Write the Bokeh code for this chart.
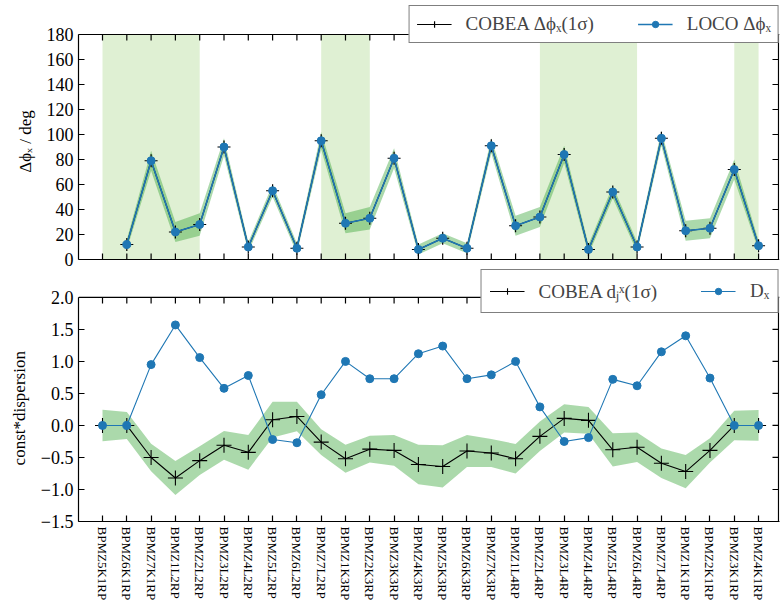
import math
from bokeh.plotting import figure
from bokeh.models import (Legend, LegendItem, FixedTicker, BoxAnnotation,
                          CustomJSTickFormatter, Range1d, Span)
from bokeh.layouts import column
from bokeh.embed import file_html
from bokeh.resources import INLINE

# ---------------- data ----------------
bpm_names = ["BPMZ5K1RP", "BPMZ6K1RP", "BPMZ7K1RP", "BPMZ1L2RP", "BPMZ2L2RP", "BPMZ3L2RP",
             "BPMZ4L2RP", "BPMZ5L2RP", "BPMZ6L2RP", "BPMZ7L2RP", "BPMZ1K3RP", "BPMZ2K3RP",
             "BPMZ3K3RP", "BPMZ4K3RP", "BPMZ5K3RP", "BPMZ6K3RP", "BPMZ7K3RP", "BPMZ1L4RP",
             "BPMZ2L4RP", "BPMZ3L4RP", "BPMZ4L4RP", "BPMZ5L4RP", "BPMZ6L4RP", "BPMZ7L4RP",
             "BPMZ1K1RP", "BPMZ2K1RP", "BPMZ3K1RP", "BPMZ4K1RP"]
bpm_idx = list(range(len(bpm_names)))

# phase advance between consecutive BPMs (deg), defined from the 2nd BPM on
phase_idx = list(range(1, 28))
cobea_dphi = [12, 79, 22, 28, 90, 10, 55, 9, 95, 29, 33, 81, 8, 17, 9, 91, 27, 34,
              84, 8, 54, 10, 97, 23, 25, 72, 11]
cobea_dphi_err = [4, 8, 8, 9, 7, 4, 5, 4, 7, 8, 9, 8, 4, 4, 4, 6, 8, 8,
                  7, 4, 5, 4, 6, 8, 8, 8, 4]
loco_dphi = [12, 79, 22, 28, 90, 10, 55, 9, 95, 29, 33, 81, 8, 17, 9, 91, 27, 34,
             84, 8, 54, 10, 97, 23, 25, 72, 11]

# shaded BPM intervals (first, last BPM index)
span_start = [0, 9, 18, 26]
span_end = [4, 11, 22, 27]

cobea_disp = [0.0, 0.0, -0.50, -0.82, -0.55, -0.31, -0.42, 0.09, 0.14, -0.26, -0.52,
              -0.37, -0.39, -0.61, -0.64, -0.40, -0.43, -0.52, -0.17, 0.11, 0.08,
              -0.38, -0.34, -0.59, -0.72, -0.39, 0.0, 0.0]
cobea_disp_err = [0.245, 0.21, 0.215, 0.265, 0.225, 0.225, 0.27, 0.28, 0.23, 0.20, 0.22,
                  0.21, 0.24, 0.31, 0.33, 0.25, 0.22, 0.23, 0.23, 0.22, 0.21, 0.26,
                  0.23, 0.23, 0.26, 0.19, 0.23, 0.24]
loco_disp = [0.0, 0.0, 0.95, 1.57, 1.06, 0.58, 0.78, -0.22, -0.27, 0.48, 1.0, 0.73,
             0.73, 1.12, 1.24, 0.73, 0.79, 1.0, 0.29, -0.25, -0.19, 0.72, 0.62, 1.15,
             1.40, 0.74, 0.0, 0.0]

phi_ticks = list(range(0, 181, 20))
disp_ticks = [-1.5, -1.0, -0.5, 0.0, 0.5, 1.0, 1.5, 2.0]

# ---------------- styling / layout ----------------
FONT = "Liberation Serif"
BLUE = "#1f77b4"
BAND = "#2ca02c"
SPAN = "#dff0d3"
BOX_H = 225                 # pixel height of the data box
BOX_W = 700                 # pixel width of the data box
XLO, XHI = -0.988, 27.82    # x extent of the data box
PX_PER_X = BOX_W / (XHI - XLO)
TICK = 6

def style_axis(ax):
    ax.axis_line_color = "black"
    ax.axis_line_width = 1.2
    ax.major_tick_in = TICK
    ax.major_tick_out = 0
    ax.major_tick_line_color = "black"
    ax.major_tick_line_width = 1.2
    ax.minor_tick_line_color = None
    ax.major_label_text_font = FONT
    ax.major_label_text_color = "black"
    ax.major_label_text_font_size = "18px"
    ax.major_label_standoff = 5
    ax.axis_label_text_font = FONT
    ax.axis_label_text_font_style = "normal"
    ax.axis_label_text_font_size = "17px"
    ax.axis_label_text_color = "black"
    ax.axis_label_standoff = 9

def make_fig(ylo, yhi, room, pad_bottom, border_top, border_bottom):
    # room: pixels above the data box for the legend (the legend overlaps the box top)
    upp = (yhi - ylo) / BOX_H
    p = figure(width=78 + BOX_W + 2, height=border_top + room + BOX_H + pad_bottom + border_bottom,
               x_range=Range1d(XLO, XHI + 1 / PX_PER_X),
               y_range=Range1d(ylo - pad_bottom * upp, yhi + room * upp),
               output_backend="svg", toolbar_location=None,
               min_border_left=78, min_border_right=1,
               min_border_top=border_top, min_border_bottom=border_bottom)
    p.grid.visible = False
    p.outline_line_color = None
    return p

def finish_box(p, ylo, yhi, yticks, draw_bottom):
    p.yaxis.ticker = FixedTicker(ticks=yticks)
    p.yaxis.bounds = (ylo, yhi)
    style_axis(p.yaxis[0])
    # top edge with inward ticks
    p.add_layout(Span(location=yhi, dimension="width", line_color="black", line_width=1.2))
    p.ray(x=bpm_idx, y=[yhi] * len(bpm_idx), length=TICK, length_units="screen",
          angle=-math.pi / 2, line_color="black", line_width=1.2)
    # right edge with inward ticks
    p.line(x=[XHI, XHI], y=[ylo, yhi], line_color="black", line_width=1.2)
    p.ray(x=[XHI] * len(yticks), y=yticks, length=TICK, length_units="screen",
          angle=math.pi, line_color="black", line_width=1.2)
    if draw_bottom:
        p.add_layout(Span(location=ylo, dimension="width", line_color="black", line_width=1.2))
        p.ray(x=bpm_idx, y=[ylo] * len(bpm_idx), length=TICK, length_units="screen",
              angle=math.pi / 2, line_color="black", line_width=1.2)

def make_legend(items, padding):
    return Legend(items=items, orientation="horizontal", location="top_right", margin=0,
                  padding=padding, spacing=44, glyph_width=35, glyph_height=16,
                  label_standoff=14, label_text_font=FONT, label_text_font_size="19px",
                  border_line_color="black", border_line_width=1.5,
                  background_fill_color="white", background_fill_alpha=1)

# ---------------- top panel ----------------
p1 = make_fig(0, 180, 29, 1, 5, 9)
for s, e in zip(span_start, span_end):
    p1.add_layout(BoxAnnotation(left=s, right=e, bottom=0, top=180, fill_color=SPAN,
                                fill_alpha=1, line_color=None, level="underlay"))
p1.varea(x=phase_idx,
         y1=[v - e for v, e in zip(cobea_dphi, cobea_dphi_err)],
         y2=[v + e for v, e in zip(cobea_dphi, cobea_dphi_err)],
         fill_color=BAND, fill_alpha=0.4)
c_line = p1.line(phase_idx, cobea_dphi, line_color="black", line_width=1.2)
c_mark = p1.scatter(phase_idx, cobea_dphi, marker="cross", size=13,
                    line_color="black", line_width=1.2)
l_line = p1.line(phase_idx, loco_dphi, line_color=BLUE, line_width=1.6)
l_mark = p1.scatter(phase_idx, loco_dphi, marker="circle", size=8,
                    fill_color=BLUE, line_color=BLUE)

p1.xaxis.visible = False
p1.yaxis.axis_label = "Δϕₓ / deg\u2007\u2007"
finish_box(p1, 0, 180, phi_ticks, True)

leg1 = make_legend([LegendItem(label="COBEA Δϕₓ(1σ)", renderers=[c_line, c_mark]),
                    LegendItem(label="LOCO Δϕₓ", renderers=[l_line, l_mark])], 7)
p1.add_layout(leg1)

# ---------------- bottom panel ----------------
p2 = make_fig(-1.5, 2.0, 28, 0, 0, 81)
p2.varea(x=bpm_idx,
         y1=[v - e for v, e in zip(cobea_disp, cobea_disp_err)],
         y2=[v + e for v, e in zip(cobea_disp, cobea_disp_err)],
         fill_color=BAND, fill_alpha=0.4)
d_line = p2.line(bpm_idx, cobea_disp, line_color="black", line_width=1.1)
d_mark = p2.scatter(bpm_idx, cobea_disp, marker="cross", size=15,
                    line_color="black", line_width=1.1)
D_line = p2.line(bpm_idx, loco_disp, line_color=BLUE, line_width=1.1)
D_mark = p2.scatter(bpm_idx, loco_disp, marker="circle", size=8,
                    fill_color=BLUE, line_color=BLUE)

p2.xaxis.ticker = FixedTicker(ticks=bpm_idx)
p2.xaxis.major_label_overrides = {i: n for i, n in zip(bpm_idx, bpm_names)}
style_axis(p2.xaxis[0])
p2.xaxis.major_label_text_font_size = "13px"
p2.xaxis.major_label_orientation = "vertical"

p2.yaxis.formatter = CustomJSTickFormatter(code="return tick.toFixed(1).replace('-', '\\u2212');")
p2.yaxis.axis_label = "const*dispersion\u2007\u2007\u2007"
finish_box(p2, -1.5, 2.0, disp_ticks, False)

leg2 = make_legend([LegendItem(label="COBEA dⱼˣ(1σ)", renderers=[d_line, d_mark]),
                    LegendItem(label="Dₓ", renderers=[D_line, D_mark])], 8)
p2.add_layout(leg2)

layout = column(p1, p2, spacing=0)
open("out.html", "w").write(file_html(layout, INLINE))
